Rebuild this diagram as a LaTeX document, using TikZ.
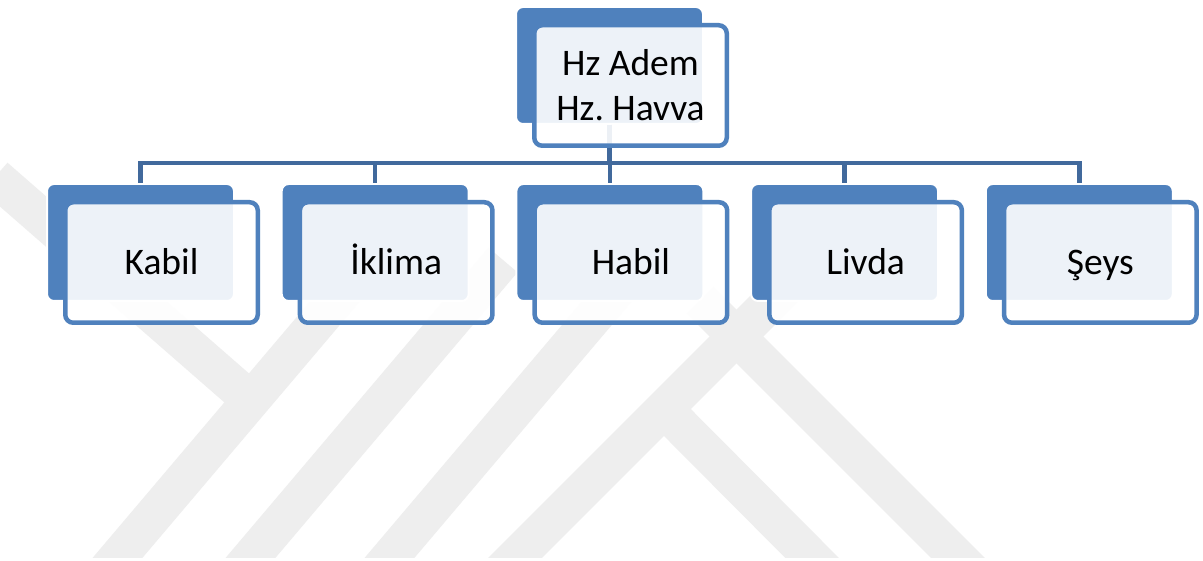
\documentclass[tikz,border=0pt]{standalone}
\usepackage{fontspec}
\setmainfont{Carlito}
\frenchspacing
\usetikzlibrary{calc}
\definecolor{boxblue}{HTML}{4F81BD}
\definecolor{linkblue}{HTML}{41699C}
\definecolor{markgray}{HTML}{EEEEEE}
\tikzset{
  backbox/.style={rectangle, rounded corners=7pt, fill=boxblue, draw=white,
    line width=2pt, minimum width=187pt, minimum height=117pt, inner sep=0pt},
  frontbox/.style={rectangle, rounded corners=8pt, draw=boxblue, line width=4.5pt,
    fill=white, fill opacity=0.9, text opacity=1, minimum width=192.5pt,
    minimum height=120.5pt, inner sep=0pt, font=\fontsize{37.5}{45}\selectfont},
  link/.style={draw=linkblue, line width=4.5pt},
  markband/.style={draw=markgray, line width=38pt},
}
\begin{document}
\begin{tikzpicture}[x=1pt, y=-1pt]
    \useasboundingbox (0,0) rectangle (1203,561);
    \fill[white] (0,0) rectangle (1203,561);

    % Watermark
    \begin{scope}
        \clip (0,0) rectangle (1203,557);
        \draw[markband] (-5,177) -- (262,410);
        \draw[markband] (103,575) -- (370,260);
        \draw[markband] (236,575) -- (503,260);
        \draw[markband] (375,575) -- (642,260);
        \draw[markband] (498,575) -- (790,283);
        \draw[markband] (975,575) -- (700,300);
        \draw[markband] (660,405) -- (829,575);
    \end{scope}

    % Back boxes
    \node[backbox, anchor=north west] (ademback) at (515,6) {};
    \foreach \name [count=\i from 0] in {kabil,iklima,habil,livda,seys}
        \node[backbox, anchor=north west] (\name back) at (46+234.7*\i,183) {};

    % Connectors
    \coordinate (bus) at (608,163);
    \foreach \name in {kabil,iklima,habil,livda,seys}
        \draw[link] (ademback.south) -- (ademback.south |- bus) -| (\name back.north);

    % Front boxes
    \node[frontbox, align=center] (adem) at ($(ademback.center)+(21,20)$) {Hz Adem\\Hz. Havva};
    \foreach \name/\label in {kabil/Kabil, iklima/İklima, habil/Habil, livda/Livda, seys/Şeys}
        \node[frontbox, text height=31.6pt, text depth=8pt] (\name) at ($(\name back.center)+(21,20)$) {\label};
\end{tikzpicture}
\end{document}
